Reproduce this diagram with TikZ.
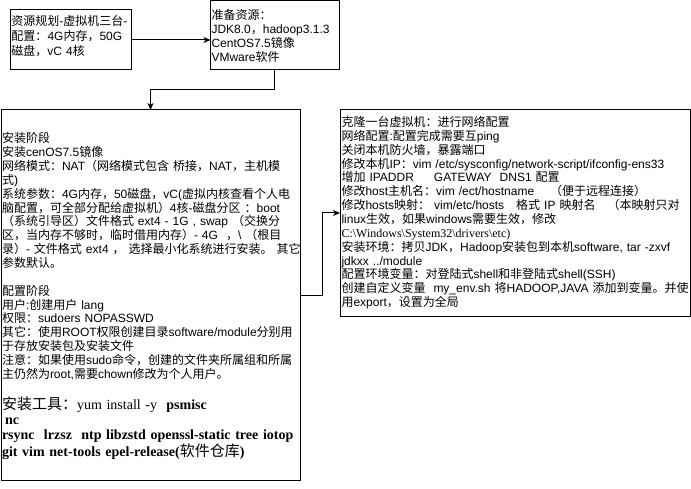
\documentclass[tikz,border=0pt]{standalone}
\usepackage{fontspec}
\setmainfont{Liberation Sans}
\newfontfamily\cjkf{Noto Sans CJK SC}
\newfontfamily\serf{Liberation Serif}
\usetikzlibrary{arrows.meta}
\newXeTeXintercharclass\CJKcls
\newcount\cjkcnt
\def\setcjkrange#1#2{\cjkcnt=#1\relax\loop\XeTeXcharclass\cjkcnt=\CJKcls\advance\cjkcnt by 1\relax\ifnum\cjkcnt<#2\relax\repeat}
\setcjkrange{"3000}{"3040}
\setcjkrange{"4E00}{"A000}
\setcjkrange{"FF00}{"FFF0}
\def\curcjk{\cjkf}
\def\curlatin{\rmfamily}
\XeTeXinterchartoks 0 \CJKcls={\curcjk}
\XeTeXinterchartoks 4095 \CJKcls={\curcjk}
\XeTeXinterchartoks \CJKcls 0={\curlatin}
\XeTeXinterchartoks \CJKcls 4095={\curlatin}
\XeTeXinterchartokenstate=1
\tikzset{
  box/.style={draw, line width=1pt, inner sep=0pt, outer sep=0pt},
  txt/.style={inner sep=0pt, outer sep=0pt, align=left, anchor=base west, text width=#1,
    font=\fontsize{12}{13.85}\selectfont},
  arr/.style={line width=1pt, -{Stealth[length=7pt,width=6pt,inset=2pt]}}
}
\begin{document}
\begin{tikzpicture}[x=1pt,y=-1pt]
\fill[white] (0,0) rectangle (691,489);
\useasboundingbox (0,0) rectangle (691,489);
% boxes
\node[box, minimum width=121pt, minimum height=60pt] (b1) at (70.5,40) {};
\node[box, minimum width=128.5pt, minimum height=69.5pt] (b2) at (274.75,35.25) {};
\node[box, minimum width=299pt, minimum height=370pt] (b3) at (150.5,295) {};
\node[box, minimum width=350pt, minimum height=206pt] (b4) at (515,213) {};
% texts
\node[txt=130pt, font=\fontsize{12}{15}\selectfont] (t1) at (11.5,25.3) {资源规划-虚拟机三台-\\配置：4G内存，50G\\磁盘，vC 4核};
\node[txt=130pt, font=\fontsize{12}{14}\selectfont] (t2) at (211.5,19.6) {准备资源：\\JDK8.0，hadoop3.1.3\\CentOS7.5镜像\\VMware软件};
\node[txt=300pt] (t3a) at (2,142.9) {安装阶段\\
安装cenOS7.5镜像\\
网络模式：NAT（网络模式包含 桥接，NAT，主机模\\
式)\\
系统参数：4G内存，50磁盘，vC(虚拟内核查看个人电\\
脑配置，可全部分配给虚拟机）4核-磁盘分区 ：boot\\
（系统引导区）文件格式 ext4 - 1G , swap （交换分\\
区，当内存不够时，临时借用内存）- 4G~~，\textbackslash~（根目\\
录）- 文件格式 ext4 ， 选择最小化系统进行安装。 其它\\
参数默认。\\[13.85pt]
配置阶段\\
用户:创建用户 lang\\
权限：sudoers NOPASSWD\\
其它：使用ROOT权限创建目录software/module分别用\\
于存放安装包及安装文件\\
注意：如果使用sudo命令，创建的文件夹所属组和所属\\
主仍然为root,需要chown修改为个人用户。};
\node[txt=300pt, font=\fontsize{14}{15}\selectfont] (t3b) at (2,409.5) {\def\curcjk{\fontsize{15}{15}\cjkf\mdseries}\def\curlatin{\fontsize{14}{15}\serf\bfseries}\curlatin
安装工具：{\mdseries yum install -y}~~psmisc\\
\hspace*{3pt}nc\\
rsync~~lrzsz~~ntp libzstd openssl-static tree iotop\\
git vim net-tools epel-release(软件仓库)};
\node[txt=420pt] (t4) at (341.5,126.6) {克隆一台虚拟机：进行网络配置\\
网络配置:配置完成需要互ping\\
关闭本机防火墙，暴露端口\\
修改本机IP：vim /etc/sysconfig/network-script/ifconfig-ens33\\
增加 IPADDR~~~~~GATEWAY~~DNS1 配置\\
修改host主机名：vim /ect/hostname~~~~（便于远程连接）\\
修改hosts映射： vim/etc/hosts~~~格式 IP 映射名~~~（本映射只对\\
linux生效，如果windows需要生效，修改\\
{\serf C:\textbackslash Windows\textbackslash System32\textbackslash drivers\textbackslash etc)}\\
安装环境：拷贝JDK，Hadoop安装包到本机software, tar -zxvf\\
jdkxx ../module\\
配置环境变量：对登陆式shell和非登陆式shell(SSH)\\
创建自定义变量~~my\_env.sh 将HADOOP,JAVA 添加到变量。并使\\
用export，设置为全局};
% connectors
\draw[arr] (b1.east) -- (b1.east -| b2.west);
\draw[arr] (b2.south) -- ++(0,20) -| (b3.north);
\draw[arr] (b3.east) -- ++(22,0) |- (b4.west);
\end{tikzpicture}
\end{document}
